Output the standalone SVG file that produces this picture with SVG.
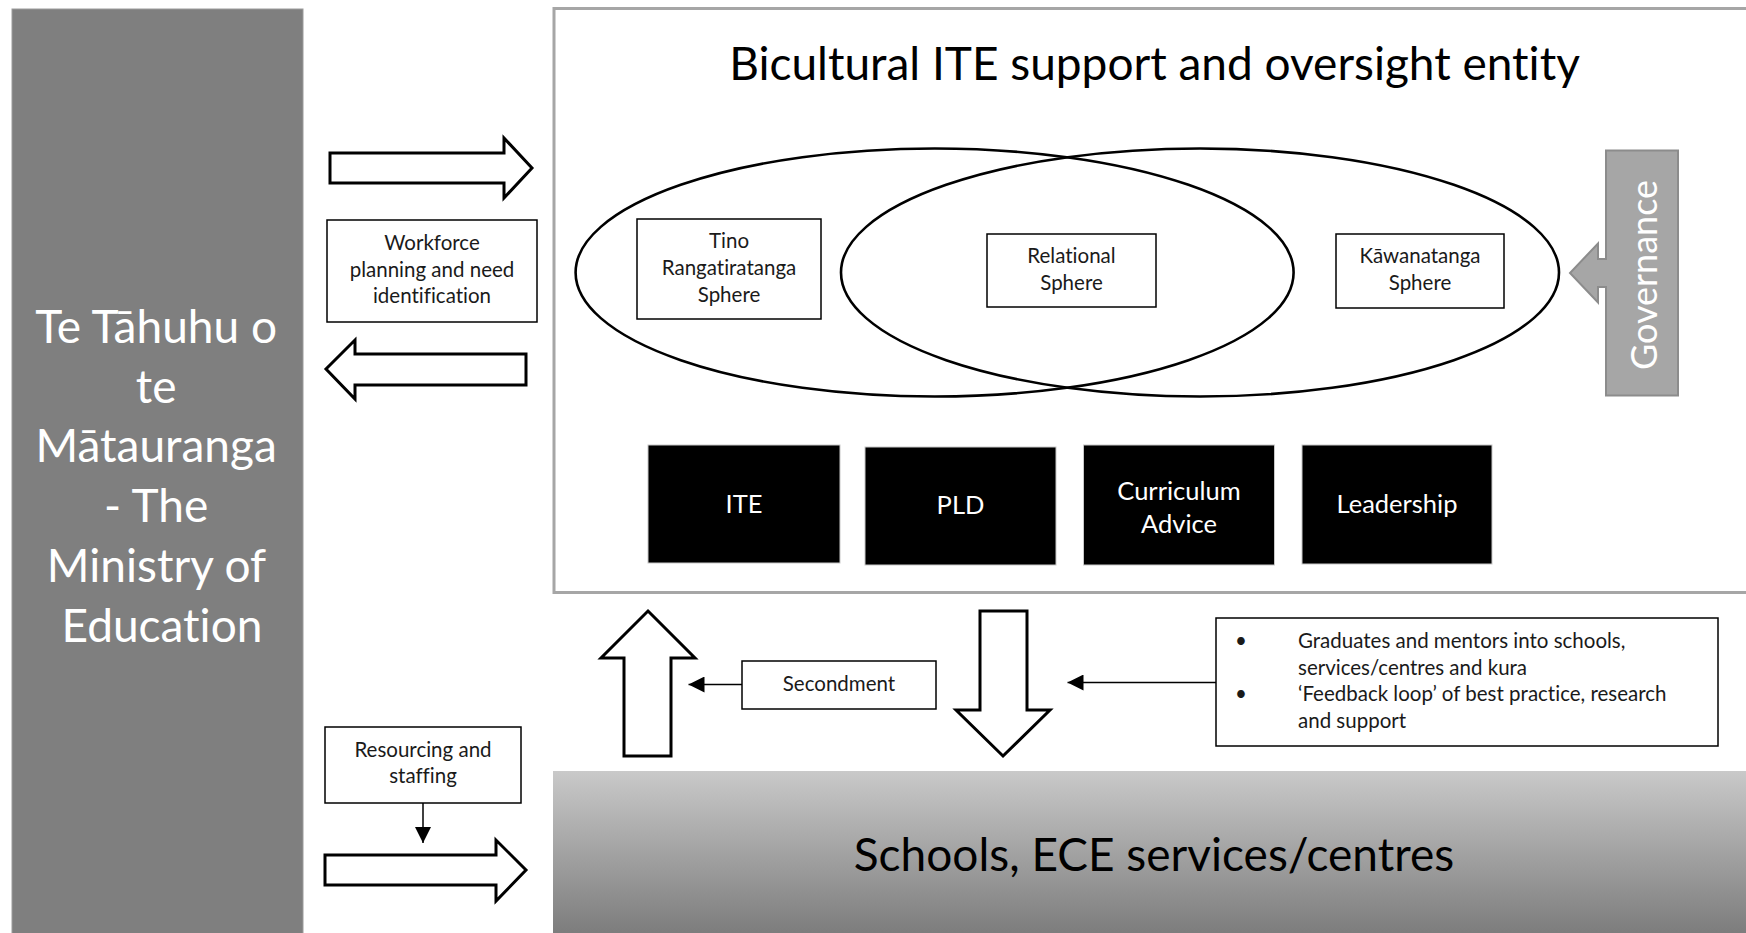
<svg xmlns="http://www.w3.org/2000/svg" width="1746" height="933" viewBox="0 0 1746 933">
  <defs>
    <linearGradient id="schoolsFill" x1="0" y1="0" x2="0" y2="1">
      <stop offset="0" stop-color="#c9c9c9"/>
      <stop offset="1" stop-color="#797979"/>
    </linearGradient>
    <marker id="tri" viewBox="0 0 16 16" refX="16" refY="8" markerWidth="16" markerHeight="16" markerUnits="userSpaceOnUse" orient="auto">
      <path d="M0,0 L16,8 L0,16 Z" fill="#000"/>
    </marker>
    <style>
      text { font-family: Lato, "Open Sans", "Liberation Sans", sans-serif; font-variant-ligatures: none; }
      .box { fill: #fff; stroke: #000; stroke-width: 1.5; }
      .lbl { font-size: 20.5px; fill: #1a1a1a; text-anchor: middle; }
      .bul { font-size: 20.5px; fill: #1a1a1a; }
      .blk { fill: #000; stroke: #c8c8c8; stroke-width: 1; }
      .blkt { font-size: 25.5px; fill: #fff; text-anchor: middle; }
      .big { fill: #fff; stroke: #000; stroke-width: 3; stroke-linejoin: miter; }
      .sphere { fill: none; stroke: #000; stroke-width: 2.6; }
      .conn { stroke: #000; stroke-width: 1.5; fill: none; marker-end: url(#tri); }
    </style>
  </defs>

  <!-- Ministry column -->
  <g id="ministry">
    <rect x="12" y="9" width="291" height="930" fill="#7f7f7f" stroke="#9c9c9c" stroke-width="1"/>
    <text font-size="46" fill="#fff" text-anchor="middle">
      <tspan x="162" y="343">Te Tāhuhu o</tspan>
      <tspan x="162" y="402.7">te</tspan>
      <tspan x="162" y="462.4">Mātauranga</tspan>
      <tspan x="162" y="522.1">- The</tspan>
      <tspan x="162" y="581.8">Ministry of</tspan>
      <tspan x="162" y="641.5">Education</tspan>
    </text>
  </g>

  <!-- Bicultural ITE entity -->
  <g id="entity">
    <rect x="554" y="8.5" width="1200" height="584" fill="#fff" stroke="#a6a6a6" stroke-width="3"/>
    <text x="1154.5" y="80" font-size="46" fill="#000" text-anchor="middle">Bicultural ITE support and oversight entity</text>
  </g>

  <g id="spheres">
    <ellipse class="sphere" cx="934.6" cy="272.5" rx="359" ry="124"/>
    <ellipse class="sphere" cx="1200" cy="272.5" rx="359" ry="124"/>
  </g>

  <g id="tino">
    <rect class="box" x="637" y="219" width="184" height="100"/>
    <text class="lbl"><tspan x="729" y="248">Tino</tspan><tspan x="729" y="275">Rangatiratanga</tspan><tspan x="729" y="302">Sphere</tspan></text>
  </g>

  <g id="relational">
    <rect class="box" x="987" y="234" width="169" height="73"/>
    <text class="lbl"><tspan x="1071.5" y="263">Relational</tspan><tspan x="1071.5" y="290">Sphere</tspan></text>
  </g>

  <g id="kawanatanga">
    <rect class="box" x="1336" y="234" width="168" height="74"/>
    <text class="lbl"><tspan x="1420" y="263">Kāwanatanga</tspan><tspan x="1420" y="290">Sphere</tspan></text>
  </g>

  <g id="governance">
    <path d="M1606,150.5 H1678 V395.5 H1606 V287 H1598 V302.5 L1570,273 L1598,243.5 V259 H1606 Z" fill="#a6a6a6" stroke="#8c8c8c" stroke-width="2"/>
    <text transform="translate(1657,275) rotate(-90)" font-size="36" fill="#fff" text-anchor="middle">Governance</text>
  </g>

  <g id="ite">
    <rect class="blk" x="648" y="445" width="192" height="118"/>
    <text class="blkt" x="744" y="513">ITE</text>
  </g>
  <g id="pld">
    <rect class="blk" x="865" y="447" width="191" height="118"/>
    <text class="blkt" x="960.5" y="514">PLD</text>
  </g>
  <g id="curriculum">
    <rect class="blk" x="1083.5" y="445" width="191" height="120"/>
    <text class="blkt"><tspan x="1179" y="500">Curriculum</tspan><tspan x="1179" y="533">Advice</tspan></text>
  </g>
  <g id="leadership">
    <rect class="blk" x="1302" y="445" width="190" height="119"/>
    <text class="blkt" x="1397" y="513">Leadership</text>
  </g>

  <!-- Schools and ECE band -->
  <g id="schools">
    <rect x="553" y="771" width="1200" height="170" fill="url(#schoolsFill)"/>
    <text x="1154" y="871" font-size="46" fill="#000" text-anchor="middle">Schools, ECE services/centres</text>
  </g>

  <g id="workforce">
    <rect class="box" x="327" y="220" width="210" height="102"/>
    <text class="lbl"><tspan x="432" y="250">Workforce</tspan><tspan x="432" y="277">planning and need</tspan><tspan x="432" y="303">identification</tspan></text>
  </g>

  <g id="secondment">
    <rect class="box" x="742" y="661" width="194" height="48"/>
    <text class="lbl" x="839" y="691">Secondment</text>
  </g>

  <g id="resourcing">
    <rect class="box" x="325" y="727" width="196" height="76"/>
    <text class="lbl"><tspan x="423" y="757">Resourcing and</tspan><tspan x="423" y="783">staffing</tspan></text>
  </g>

  <g id="outcomes">
    <rect class="box" x="1216" y="618" width="502" height="128"/>
    <text class="bul">
      <tspan x="1235" y="648">•</tspan><tspan x="1298" y="648">Graduates and mentors into schools,</tspan>
      <tspan x="1298" y="674.5">services/centres and kura</tspan>
      <tspan x="1235" y="701">•</tspan><tspan x="1298" y="701">‘Feedback loop’ of best practice, research</tspan>
      <tspan x="1298" y="727.5">and support</tspan>
    </text>
  </g>

  <!-- Flow arrows and connectors -->
  <g id="connectors">
    <polygon class="big" points="330,153 504,153 504,138 532,168 504,198 504,183 330,183"/>
    <polygon class="big" points="526,354 355,354 355,340 326,369 355,399 355,385 526,385"/>
    <polygon class="big" points="648,611 695,658 671,658 671,756 624,756 624,658 601,658"/>
    <polygon class="big" points="980,611 1027,611 1027,710 1050,710 1003,756 956,710 980,710"/>
    <polygon class="big" points="325,855 496,855 496,840 526,870 496,901 496,885 325,885"/>
    <line class="conn" x1="742" y1="684.5" x2="688.5" y2="684.5"/>
    <line class="conn" x1="1216" y1="682.5" x2="1067.5" y2="682.5"/>
    <line class="conn" x1="423" y1="803" x2="423" y2="843"/>
  </g>
</svg>
